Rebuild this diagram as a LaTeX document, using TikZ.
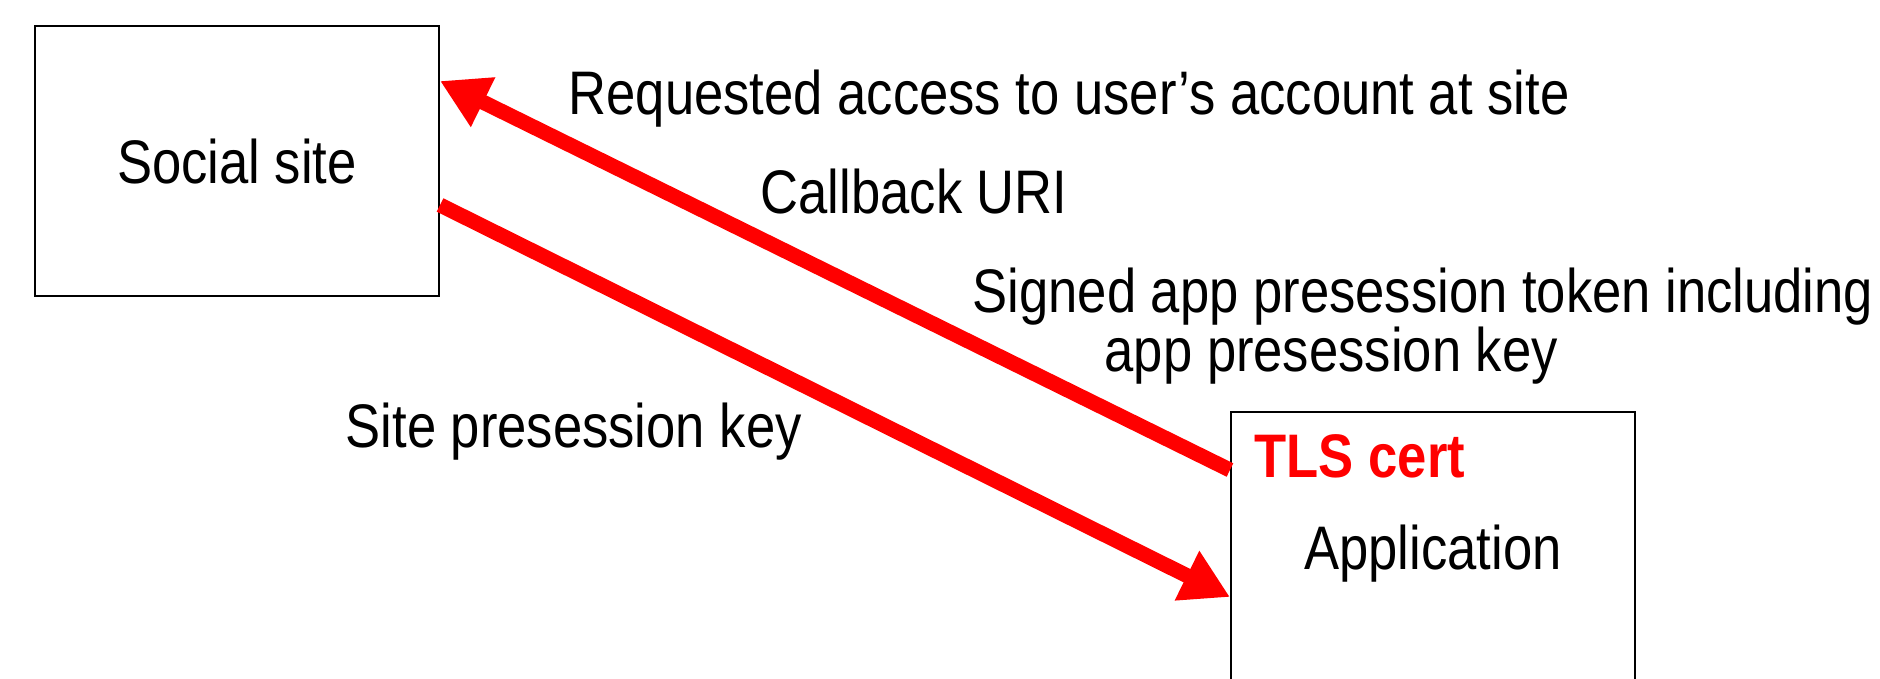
\documentclass[tikz,border=0pt]{standalone}
\usepackage{fontspec}
\setmainfont[FakeStretch=0.855]{Liberation Sans}
\usetikzlibrary{arrows.meta, positioning}

\tikzset{
    box/.style={draw, line width=0.6pt, minimum width=4.04cm, minimum height=2.70cm,
        text depth=0pt, font=\fontsize{17.5}{21}\selectfont},
    lbl/.style={inner sep=0pt, anchor=base west, font=\fontsize{17.5}{21}\selectfont},
    flow/.style={red, line width=0.15cm, -{Triangle[length=0.48cm, width=0.52cm]}}
}

\begin{document}
\begin{tikzpicture}
        \useasboundingbox (0,0) rectangle (18.8,6.78);

        % Boxes
        \node[box] (soc) at (2.37,5.17) {Social site};
        \node[box] (app) at (14.33,1.31) {Application};
        \node[inner sep=0pt, anchor=north west, red, font=\fontsize{17.5}{21}\selectfont\bfseries]
            (tls) at ([xshift=0.24cm, yshift=-0.23cm]app.north west) {TLS cert};

        % Arrows between the boxes
        \draw[flow] ([yshift=0.77cm]app.west) -- ([yshift=0.80cm]soc.east);
        \draw[flow] ([yshift=-0.44cm]soc.east) -- ([yshift=-0.50cm]app.west);

        % Labels
        \node[lbl] (req) at (5.68,5.63) {Requested access to user’s account at site};
        \node[lbl] (cb) at (7.60,4.65) {Callback URI};
        \node[lbl] (tok) at (9.72,3.66) {Signed app presession token including};
        \node[lbl] (key) at (11.04,3.07) {app presession key};
        \node[lbl] (spk) at (3.45,2.31) {Site presession key};
    \end{tikzpicture}
\end{document}
